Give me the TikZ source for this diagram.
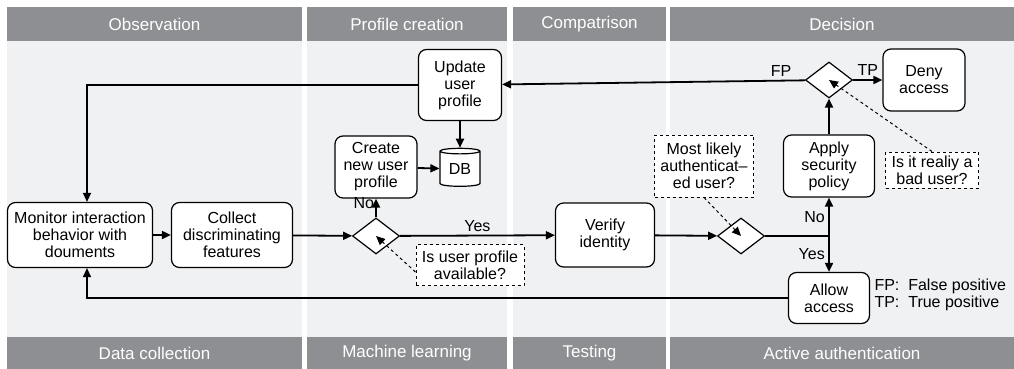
\documentclass[tikz,border=0pt]{standalone}
\usepackage{fontspec}
\setmainfont{Liberation Sans}
\usetikzlibrary{shapes.geometric,arrows.meta}
\definecolor{headgray}{RGB}{142,143,147}
\definecolor{bodygray}{RGB}{240,241,243}

\begin{document}
\begin{tikzpicture}
  [x=1pt,y=-1pt,
   box/.style={draw,rounded corners=8pt,fill=white,line width=1.2pt,align=center,inner sep=0pt,font=\fontsize{16}{17}\selectfont},
   ask/.style={draw,dashed,fill=white,line width=1pt,align=center,inner sep=0pt,font=\fontsize{16}{17}\selectfont},
   dec/.style={diamond,draw,fill=white,line width=1.2pt,inner sep=0pt,minimum width=47pt,minimum height=36pt},
   head/.style={text=white,font=\fontsize{17}{18}\selectfont},
   lbl/.style={font=\fontsize{16}{17}\selectfont},
   flow/.style={line width=1.8pt,-{Triangle[length=9pt,width=8pt]}},
   back/.style={line width=1.2pt,-{Triangle[length=9pt,width=8pt]}},
   hint/.style={dashed,line width=1pt,-{Triangle[length=9pt,width=8pt]}}]
  \useasboundingbox (0,0) rectangle (1014,369);
  \foreach \l/\r/\top/\bot [count=\i] in {7/302/Observation/Data collection,
      307/507/Profile creation/Machine learning,513/666/Compatrison/Testing,
      670/1014/Decision/Active authentication} {
    \fill[bodygray] (\l,7) rectangle (\r,369);
    \fill[headgray] (\l,7) rectangle (\r,41);
    \fill[headgray] (\l,337) rectangle (\r,369);
    \node[head] (h\i) at ({(\l+\r)/2},24) {\top};
    \node[head] (f\i) at ({(\l+\r)/2},353) {\bot};
  }
  \node[box,minimum width=83pt,minimum height=71pt] (upd) at (460,85) {Update\\user\\profile};
  \node[cylinder,shape border rotate=90,aspect=0.25,draw,fill=white,line width=1.2pt,
        minimum width=40pt,minimum height=38pt,inner sep=0pt,lbl] (db) at (460,169) {\raisebox{-3pt}{DB}};
  \node[box,minimum width=82pt,minimum height=62pt] (new) at (376,167) {Create\\new user\\profile};
  \node[box,minimum width=145pt,minimum height=65pt] (mon) at (80,235) {Monitor interaction\\behavior with\\douments};
  \node[box,minimum width=121pt,minimum height=65pt] (col) at (232,235) {Collect\\discriminating\\features};
  \node[dec] (dia1) at (376,236) {};
  \node[ask,minimum width=108pt,minimum height=41pt] (qprof) at (470,265) {Is user profile\\available?};
  \node[box,minimum width=99pt,minimum height=64pt] (ver) at (605,235) {Verify\\identity};
  \node[dec] (dia2) at (741,236) {};
  \node[ask,minimum width=99pt,minimum height=62pt] (qauth) at (704,166) {Most likely\\authenticat--\\ed user?};
  \node[box,minimum width=91pt,minimum height=62pt] (apply) at (829,166) {Apply\\security\\policy};
  \node[box,minimum width=81pt,minimum height=51pt] (allow) at (829,298) {Allow\\access};
  \node[dec] (dia3) at (829,80) {};
  \node[box,minimum width=82pt,minimum height=62pt] (deny) at (924,80) {Deny\\access};
  \node[ask,minimum width=93pt,minimum height=36pt] (qbad) at (932,170) {Is it realiy a\\bad user?};
  \node[lbl,anchor=west,align=left] (key) at (871,295) {FP:\ \ False positive\\TP:\ \ True positive};
  \coordinate (sp) at (dia2.east -| apply.south);
  \draw[flow] (mon) -- (col);
  \draw[flow] (col) -- (dia1);
  \draw[flow] (dia1) -- node[lbl,left,pos=0.75,inner sep=1pt] {No} (new);
  \draw[flow] (dia1) -- node[lbl,above] {Yes} (ver);
  \draw[flow] (new) -- (db);
  \draw[flow] (upd) -- (db);
  \draw[flow] (ver) -- (dia2);
  \draw[line width=1.8pt] (dia2.east) -- (sp);
  \draw[flow] (sp) -- node[lbl,left] {No} (apply);
  \draw[flow] (sp) -- node[lbl,left] {Yes} (allow);
  \draw[flow] (apply) -- (dia3);
  \draw[flow] (dia3) -- node[lbl,above,pos=0.08] {FP} (upd);
  \draw[flow] (dia3) -- node[lbl,above] {TP} (deny);
  \draw[back] (upd.west) -| ([xshift=7pt]mon.north);
  \draw[back] (allow.west) -| ([xshift=7pt]mon.south);
  \draw[hint] ([yshift=-7pt]qprof.west) -- (dia1.center);
  \draw[hint] (qauth.south) -- (dia2.center);
  \draw[hint] (qbad.north) -- (dia3.center);
\end{tikzpicture}
\end{document}
